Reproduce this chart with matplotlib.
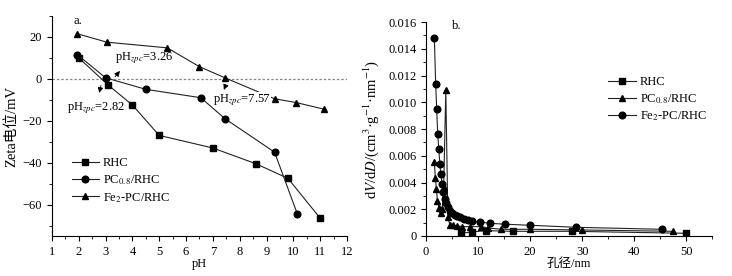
import matplotlib
matplotlib.use("Agg")
import matplotlib.pyplot as plt
from matplotlib.ticker import MultipleLocator, FuncFormatter

plt.rcParams['font.family'] = ['Liberation Serif', 'Noto Sans CJK SC']
plt.rcParams['mathtext.fontset'] = 'stix'
plt.rcParams['font.size'] = 9

# --- panel a: zeta potential vs pH ---
ph_rhc = [2.0, 3.1, 4.0, 5.0, 7.0, 8.6, 9.8, 11.0]
zeta_rhc = [10.0, -3.0, -12.5, -27.0, -33.0, -40.5, -47.5, -66.5]
ph_pc = [1.95, 3.0, 4.5, 6.55, 7.45, 9.3, 10.15]
zeta_pc = [11.5, 0.5, -5.0, -9.0, -19.0, -35.0, -64.5]
ph_fe = [1.95, 3.05, 5.3, 6.5, 7.45, 9.3, 10.1, 11.15]
zeta_fe = [21.5, 17.5, 14.8, 5.8, 0.5, -9.5, -11.3, -14.5]

# --- panel b: pore size distribution ---
d_rhc = [6.8, 8.8, 11.5, 16.7, 28.0, 50.0]
v_rhc = [0.0002, 0.0003, 0.0004, 0.00035, 0.00035, 0.0002]
d_pc = [1.6, 1.8, 2.0, 2.2, 2.5, 2.8, 3.1, 3.4, 3.8, 4.2, 4.6, 5.2, 6.0, 7.0,
        8.5, 10.5, 12.0, 14.5, 20.0, 30.0, 47.5]
v_pc = [0.0055, 0.0043, 0.0035, 0.0026, 0.0021, 0.0017, 0.0020, 0.0037, 0.0109,
        0.0014, 0.0008, 0.0008, 0.00075, 0.0007, 0.0007, 0.0007, 0.0006, 0.0005,
        0.0005, 0.00045, 0.00035]
d_fe = [1.6, 1.85, 2.05, 2.25, 2.45, 2.65, 2.85, 3.1, 3.3, 3.6, 3.9, 4.2, 4.6,
        5.0, 5.5, 6.0, 6.6, 7.3, 8.0, 8.8, 10.3, 12.2, 15.2, 20.0, 28.8, 45.3]
v_fe = [0.0148, 0.0114, 0.0095, 0.0076, 0.0065, 0.0054, 0.0046, 0.0039, 0.0033,
        0.0028, 0.0025, 0.0022, 0.0019, 0.0017, 0.0016, 0.0015, 0.0014, 0.0013,
        0.0012, 0.0011, 0.00105, 0.00095, 0.00088, 0.0008, 0.00065, 0.0005]

lc = '#222222'
kw = dict(color=lc, lw=0.8, markersize=4.8, mfc='black', mec='black')

fig = plt.figure(figsize=(7.32, 2.76), dpi=100)

ax1 = fig.add_axes([0.071, 0.145, 0.403, 0.797])
ax1.axhline(0, color='#888888', lw=0.9, ls=(0, (2, 1.5)), zorder=1)
ax1.plot(ph_rhc, zeta_rhc, marker='s', label='RHC', **kw)
ax1.plot(ph_pc, zeta_pc, marker='o', label='PC$_{0.8}$/RHC', **kw)
ax1.plot(ph_fe, zeta_fe, marker='^', label='Fe$_2$-PC/RHC', **kw)
ax1.set_xlim(1, 12)
ax1.set_ylim(-75, 30)
ax1.xaxis.set_major_locator(MultipleLocator(1))
ax1.xaxis.set_minor_locator(MultipleLocator(0.5))
ax1.yaxis.set_major_locator(MultipleLocator(20))
ax1.yaxis.set_minor_locator(MultipleLocator(10))
ax1.set_xlabel('pH', labelpad=0)
ax1.set_ylabel('Zeta电位/mV', labelpad=3, fontsize=10.5)
for s in ['top', 'right']:
    ax1.spines[s].set_visible(False)
ax1.text(1.82, 27.5, 'a.', ha='left', va='center')

arw = dict(arrowstyle='-|>', color='black', lw=0.6, mutation_scale=8)
ax1.annotate('', xy=(3.6, 4.8), xytext=(3.29, 0), arrowprops=arw)
ax1.text(3.35, 10.0, 'pH$_{zpc}$=3.26', ha='left', va='center')
ax1.annotate('', xy=(2.74, -8.0), xytext=(2.85, -1.8), arrowprops=arw)
ax1.text(1.55, -14.0, 'pH$_{zpc}$=2.82', ha='left', va='center')
ax1.annotate('', xy=(7.37, -6.5), xytext=(7.52, -1.8), arrowprops=arw)
ax1.text(7.0, -10.0, 'pH$_{zpc}$=7.57', ha='left', va='center',
         bbox=dict(fc='white', ec='none', pad=0.2))
ax1.legend(loc='lower left', bbox_to_anchor=(0.05, 0.12), frameon=False,
           handlelength=2.2, handletextpad=0.3, labelspacing=0.3,
           borderaxespad=0)

ax2 = fig.add_axes([0.582, 0.145, 0.391, 0.775])
ax2.plot(d_rhc, v_rhc, marker='s', label='RHC', **kw)
ax2.plot(d_pc, v_pc, marker='^', label='PC$_{0.8}$/RHC', **kw)
ax2.plot(d_fe, v_fe, marker='o', label='Fe$_2$-PC/RHC', **kw)
ax2.set_xlim(0, 55)
ax2.set_ylim(0, 0.016)
ax2.xaxis.set_major_locator(MultipleLocator(10))
ax2.xaxis.set_minor_locator(MultipleLocator(5))
ax2.yaxis.set_major_locator(MultipleLocator(0.002))
ax2.yaxis.set_minor_locator(MultipleLocator(0.001))
ax2.yaxis.set_major_formatter(FuncFormatter(lambda v, p: '0' if abs(v) < 1e-9 else f'{v:.3f}'))
ax2.set_xlabel('孔径/nm', labelpad=0)
ax2.set_ylabel('d$V$/d$D$/(cm$^3$·g$^{-1}$·nm$^{-1}$)', labelpad=5, fontsize=10.5)
for s in ['top', 'right']:
    ax2.spines[s].set_visible(False)
ax2.text(5.0, 0.0157, 'b.', ha='left', va='center')
ax2.legend(loc='upper left', bbox_to_anchor=(0.62, 0.77), frameon=False,
           handlelength=2.2, handletextpad=0.3, labelspacing=0.3,
           borderaxespad=0)

fig.savefig('out.png', dpi=100)
